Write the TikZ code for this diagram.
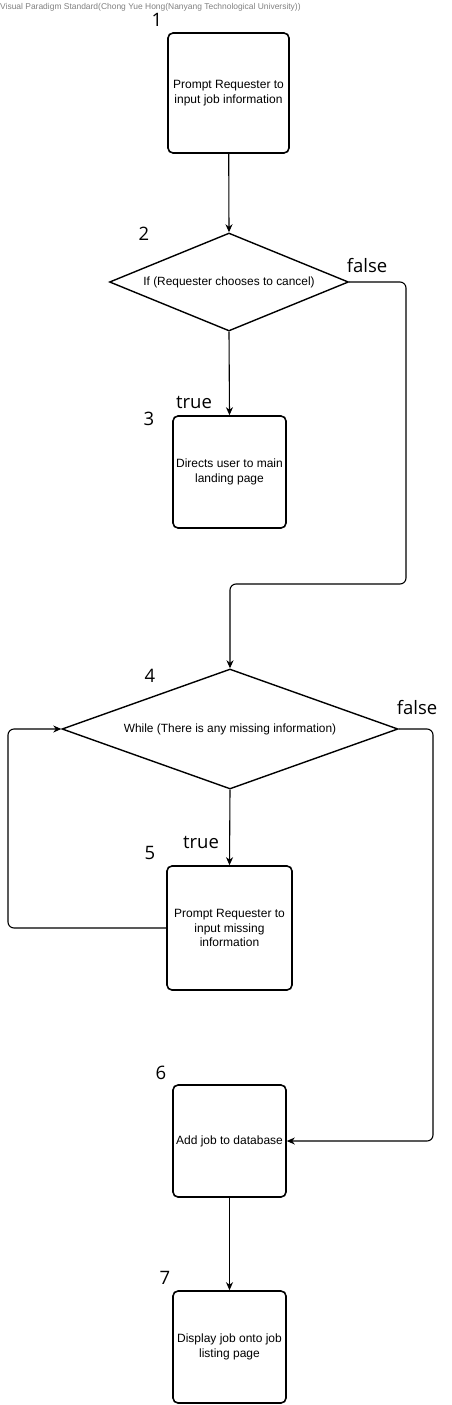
\documentclass[tikz,border=0pt]{standalone}
\usepackage{fontspec}
\setmainfont{Liberation Sans}
\newfontfamily\numfont{Open Sans}
\usetikzlibrary{shapes.geometric,arrows.meta}
\begin{document}
\begin{tikzpicture}[x=1pt,y=-1pt,
		act/.style={draw,line width=1.6pt,rounded corners=5pt,align=center,inner sep=0pt,font=\fontsize{12}{14.8}\selectfont},
		cond/.style={diamond,draw,line width=1.4pt,inner sep=0pt,font=\fontsize{11.9}{14}\selectfont},
		num/.style={font=\numfont\fontsize{18.5}{20}\selectfont},
		flow/.style={line width=1.1pt,-{Stealth[length=8pt,width=7pt,inset=2.5pt]}}]
		\useasboundingbox (0,0) rectangle (451,1405);
		\node [anchor=west,text=gray,font=\fontsize{8.45}{9}\selectfont,inner sep=0pt] (vp) at (0,7) {Visual Paradigm Standard(Chong Yue Hong(Nanyang Technological University))};
		% actions and decisions
		\node [act,minimum width=121pt,minimum height=120pt] (b1) at (228.5,93) {Prompt Requester to\\input job information};
		\node [cond,shape aspect=2.44,minimum width=239pt,minimum height=98pt] (d2) at (229,282) {If (Requester chooses to cancel)};
		\node [act,minimum width=113pt,minimum height=112pt] (b3) at (229.5,472) {Directs user to main\\landing page};
		\node [cond,shape aspect=2.8,minimum width=336pt,minimum height=120pt] (d4) at (230,729) {While (There is any missing information)};
		\node [act,minimum width=125pt,minimum height=124pt] (b5) at (229.5,928) {Prompt Requester to\\input missing\\information};
		\node [act,minimum width=113pt,minimum height=112pt] (b6) at (229.5,1141) {Add job to database};
		\node [act,minimum width=113pt,minimum height=112pt] (b7) at (229.5,1347) {Display job onto job\\listing page};
		% step numbers
		\node [num] (n1) at (157,20) {1};
		\node [num] (n2) at (144,234) {2};
		\node [num] (n3) at (149,419) {3};
		\node [num] (n4) at (150,676) {4};
		\node [num] (n5) at (150,853) {5};
		\node [num] (n6) at (161,1073) {6};
		\node [num] (n7) at (165,1278) {7};
		\node [num] (f2) at (367,266) {false};
		\node [num] (t2) at (194,402) {true};
		\node [num] (f4) at (417,708) {false};
		\node [num] (t4) at (201,842) {true};
		% connectors
		\coordinate (r2) at (406,584);
		\coordinate (r4) at (433,0);
		\coordinate (lp) at (8,0);
		\draw [flow] (b1) -- (d2.north);
		\draw [flow] (d2.south) -- (b3.north);
		\draw [flow,rounded corners=6pt] (d2.east) -| (r2) -- (r2 -| d4.north) -- (d4.north);
		\draw [flow] (d4.south) -- (b5.north);
		\draw [flow,rounded corners=6pt] (b5.west) -- (lp |- b5.west) |- (d4.west);
		\draw [flow,rounded corners=6pt] (d4.east) -| (r4 |- b6.east) -- (b6.east);
		\draw [flow] (b6.south) -- (b7.north);
	\end{tikzpicture}
\end{document}
